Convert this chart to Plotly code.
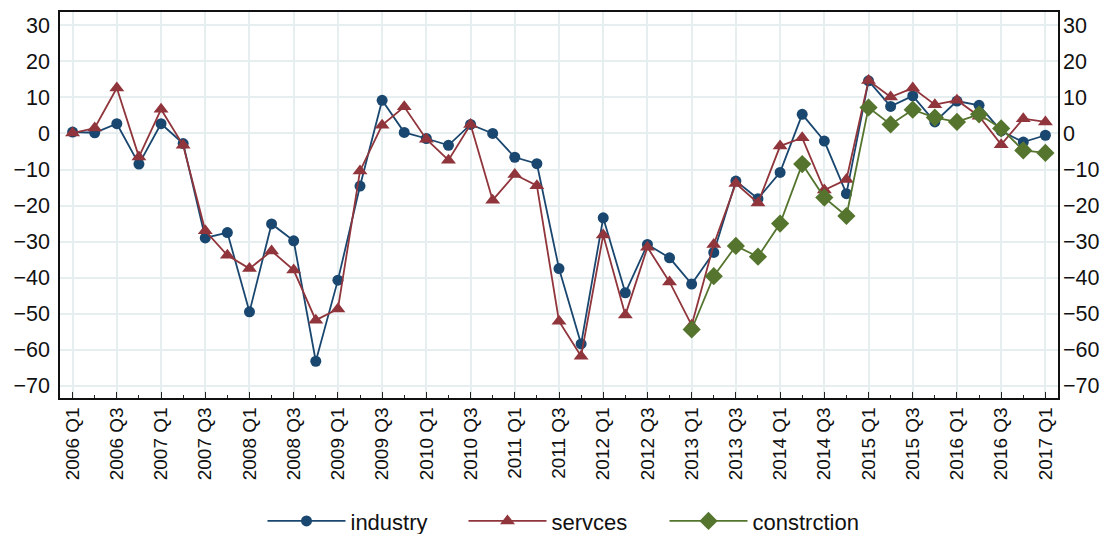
import plotly.graph_objects as go

# Quarterly balance-of-opinion indicators by sector
quarters = [f"{y} Q{q}" for y in range(2006, 2017) for q in range(1, 5)] + ["2017 Q1"]

industry = [0.4, 0.2, 2.7, -8.5, 2.7, -2.8, -29.0, -27.5, -49.5, -25.1, -29.8, -63.2,
            -40.7, -14.6, 9.2, 0.3, -1.4, -3.3, 2.5, 0.0, -6.6, -8.4, -37.5, -58.4,
            -23.4, -44.2, -30.8, -34.5, -41.8, -33.0, -13.2, -18.1, -10.8, 5.3, -2.1, -16.7,
            14.6, 7.5, 10.4, 3.2, 9.0, 7.8, 0.7, -2.4, -0.5]

services = [0.1, 1.5, 12.6, -6.5, 6.7, -3.3, -27.0, -33.8, -37.5, -32.6, -37.9, -51.8,
            -48.7, -10.4, 2.3, 7.4, -1.6, -7.4, 2.5, -18.5, -11.4, -14.5, -52.1, -61.8,
            -28.2, -50.4, -31.6, -41.2, -53.2, -30.8, -13.9, -19.3, -3.5, -1.2, -15.7, -12.8,
            14.7, 10.1, 12.6, 8.0, 9.2, 4.8, -3.1, 4.1, 3.2]

# construction series starts in 2013 Q1
construction = [None] * 28 + [-54.4, -39.6, -31.2, -34.2, -25.0, -8.5, -17.8, -22.9,
                              7.2, 2.5, 6.6, 4.4, 3.2, 5.3, 1.4, -4.7, -5.4]

y_ticks = [30, 20, 10, 0, -10, -20, -30, -40, -50, -60, -70]

pos = list(range(len(quarters)))
label_pos = pos[::2]
label_text = quarters[::2]

NAVY = "#1a476f"
MAROON = "#90353b"
GREEN = "#55752f"
GRID = "#e6eef0"
FONT = "Liberation Sans, Arial, sans-serif"

fig = go.Figure()
fig.add_trace(go.Scatter(x=pos, y=industry, name="industry", mode="lines+markers",
                         line=dict(color=NAVY, width=1.8),
                         marker=dict(symbol="circle", size=11, color=NAVY)))
fig.add_trace(go.Scatter(x=pos, y=services, name="servces", mode="lines+markers",
                         line=dict(color=MAROON, width=1.8),
                         marker=dict(symbol="triangle-up", size=13, color=MAROON)))
fig.add_trace(go.Scatter(x=pos, y=construction, name="constrction", mode="lines+markers",
                         line=dict(color=GREEN, width=1.8),
                         marker=dict(symbol="diamond", size=14, color=GREEN)))
# carrier for the right-hand value axis
fig.add_trace(go.Scatter(x=[pos[0]], y=[industry[0]], yaxis="y2", mode="markers",
                         marker=dict(opacity=0), showlegend=False, hoverinfo="skip"))

y_range = [-73.4, 33.7]

fig.update_layout(
    width=1114, height=534,
    margin=dict(l=60, r=56, t=12, b=136, autoexpand=False),
    paper_bgcolor="white", plot_bgcolor="white",
    font=dict(family=FONT, color="#111111"),
    showlegend=True,
    legend=dict(orientation="h", x=0.505, xanchor="center", y=-0.319, yanchor="middle",
                font=dict(size=22, family=FONT), itemwidth=78, entrywidth=108,
                tracegroupgap=0, bgcolor="rgba(0,0,0,0)"),
    xaxis=dict(range=[-0.57, 44.57], tickmode="array", tickvals=label_pos, ticktext=label_text,
               tickangle=-90, tickfont=dict(size=19, family=FONT),
               ticks="inside", ticklen=6, tickcolor="#222", tickwidth=1.2,
               minor=dict(ticks="inside", ticklen=3, dtick=1, tick0=0, tickcolor="#222",
                          showgrid=False),
               showgrid=True, gridcolor=GRID, gridwidth=2,
               showline=True, linecolor="#111", linewidth=1.6, mirror=True,
               zeroline=False),
    yaxis=dict(range=y_range, tickmode="array", tickvals=y_ticks,
               tickfont=dict(size=21.5, family=FONT), ticks="", ticklabelstandoff=4,
               showgrid=True, gridcolor=GRID, gridwidth=2,
               showline=True, linecolor="#111", linewidth=1.6, mirror=True,
               zeroline=False),
    yaxis2=dict(range=y_range, tickmode="array", tickvals=y_ticks, overlaying="y", side="right",
                tickfont=dict(size=21.5, family=FONT), ticks="", ticklabelstandoff=4,
                showgrid=False, showline=False, zeroline=False),
)

fig.write_html("out.html")
